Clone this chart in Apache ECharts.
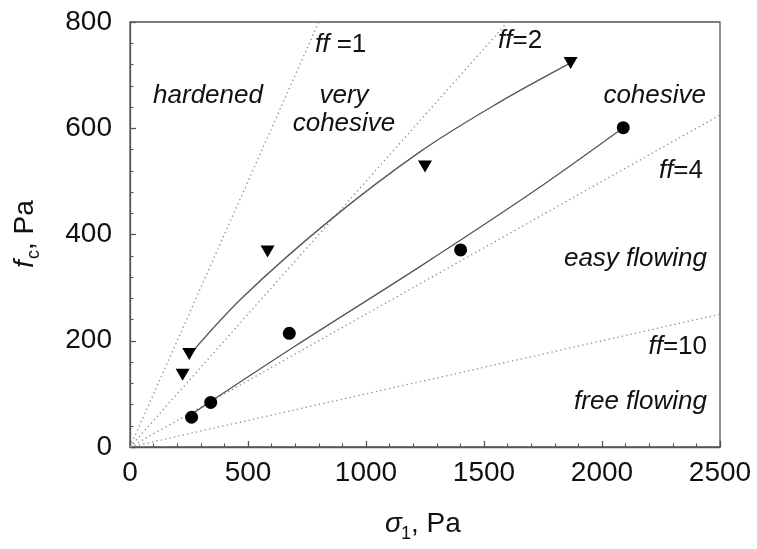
<!DOCTYPE html>
<html>
<head>
<meta charset="utf-8">
<script src="https://cdn.jsdelivr.net/npm/echarts@6/dist/echarts.min.js"></script>
<style>
html,body{margin:0;padding:0;background:#fff;}
#c{width:757px;height:549px;}
</style>
</head>
<body>
<div id="c"></div>
<script>
// ---- data ----
var xTicks = [0, 500, 1000, 1500, 2000, 2500];
var yTicks = [0, 200, 400, 600, 800];
// down-pointing triangles
var triX = [223, 251, 583, 1250, 1867];
var triY = [136, 175, 368, 528, 723];
// circles
var cirX = [261, 342, 675, 1401, 2090];
var cirY = [56, 84, 214, 371, 601];
// fitted curves
var fitTriX = [265, 480, 850, 1230, 1550, 1867];
var fitTriY = [180, 283, 428, 556, 645, 723];
var fitCirX = [255, 700, 1230, 1700, 2090];
var fitCirY = [60, 190, 340, 478, 601];
// flow-function lines ff = sigma1 / fc (end points)
var ffNames = ['ff=1', 'ff=2', 'ff=4', 'ff=10'];
var ffEndX = [800, 1600, 2500, 2500];
var ffEndY = [800, 800, 625, 250];

function zip(a, b) { return a.map(function (v, i) { return [v, b[i]]; }); }

var FONT = '"Liberation Sans", Arial, Helvetica, sans-serif';
var chart = echarts.init(document.getElementById('c'), null, {renderer: 'canvas'});

var series = [];
ffNames.forEach(function (n, i) {
  series.push({
    name: n, type: 'line', data: [[0, 0], [ffEndX[i], ffEndY[i]]],
    showSymbol: false, silent: true, z: 1,
    lineStyle: {color: '#8a8a8a', width: 1.3, type: [1.3, 3.2]}
  });
});
series.push({
  type: 'line', data: zip(fitTriX, fitTriY), smooth: 0.35, showSymbol: false, z: 2,
  lineStyle: {color: '#555', width: 1.3}
});
series.push({
  type: 'line', data: zip(fitCirX, fitCirY), smooth: 0.35, showSymbol: false, z: 2,
  lineStyle: {color: '#555', width: 1.3}
});
series.push({
  type: 'scatter', data: zip(triX, triY), symbol: 'triangle', symbolRotate: 180,
  symbolSize: [14, 12], itemStyle: {color: '#000', opacity: 1}, z: 3
});
series.push({
  type: 'scatter', data: zip(cirX, cirY), symbol: 'circle',
  symbolSize: 13, itemStyle: {color: '#000', opacity: 1}, z: 3
});

function txt(t, x, y, align, rich) {
  var s = {text: t, x: x, y: y, align: align, verticalAlign: 'middle',
           font: '26px ' + FONT, fontFamily: FONT, fontSize: 26, fill: '#111'};
  if (rich) s.rich = rich;
  return {type: 'text', style: s, z: 10};
}
var ffRich = {i: {fontStyle: 'italic', fontFamily: FONT, fontSize: 26, color: '#111'},
              n: {fontFamily: FONT, fontSize: 26, color: '#111'}};
function italic(t, x, y, align) {
  return {type: 'text', z: 10, style: {text: t, x: x, y: y, align: align, verticalAlign: 'middle',
    font: 'italic 26px ' + FONT, fill: '#111'}};
}

var graphics = [
  italic('hardened', 208, 96, 'center'),
  italic('very', 344, 96, 'center'),
  italic('cohesive', 344, 124, 'center'),
  italic('cohesive', 706, 96, 'right'),
  italic('easy flowing', 707, 259, 'right'),
  italic('free flowing', 707, 402, 'right'),
  txt('{i|ff} {n|=1}', 315, 45, 'left', ffRich),
  txt('{i|ff}{n|=2}', 498, 41, 'left', ffRich),
  txt('{i|ff}{n|=4}', 703, 171, 'right', ffRich),
  txt('{i|ff}{n|=10}', 707, 347, 'right', ffRich),
  // x axis title: sigma_1, Pa
  {type: 'text', z: 10, style: {text: 'σ', x: 385, y: 524, align: 'left', verticalAlign: 'middle',
    font: 'italic 28px ' + FONT, fill: '#111'}},
  {type: 'text', z: 10, style: {text: '1', x: 401, y: 534, align: 'left', verticalAlign: 'middle',
    font: '18px ' + FONT, fill: '#111'}},
  {type: 'text', z: 10, style: {text: ', Pa', x: 411, y: 524, align: 'left', verticalAlign: 'middle',
    font: '28px ' + FONT, fill: '#111'}},
  // y axis title: f_c, Pa (rotated, reads bottom-to-top)
  {type: 'group', x: 25, y: 268, rotation: Math.PI / 2, children: [
    {type: 'text', z: 10, style: {text: 'f', x: 0, y: 0, align: 'left', verticalAlign: 'middle',
      font: 'italic 28px ' + FONT, fill: '#111'}},
    {type: 'text', z: 10, style: {text: 'c', x: 9, y: 9, align: 'left', verticalAlign: 'middle',
      font: '18px ' + FONT, fill: '#111'}},
    {type: 'text', z: 10, style: {text: ', Pa', x: 18, y: 0, align: 'left', verticalAlign: 'middle',
      font: '28px ' + FONT, fill: '#111'}}
  ]}
];

chart.setOption({
  animation: false,
  backgroundColor: '#fff',
  grid: {left: 130, right: 37, top: 22, bottom: 102, show: true,
         borderColor: '#555', borderWidth: 1.3, backgroundColor: 'transparent'},
  xAxis: {
    type: 'value', min: xTicks[0], max: xTicks[xTicks.length - 1], interval: 500,
    axisLine: {show: true, onZero: false, lineStyle: {color: '#555', width: 1.3}},
    axisTick: {show: true, inside: true, length: 6, lineStyle: {color: '#555', width: 1.3}},
    minorTick: {show: true, splitNumber: 5, length: 3.5, lineStyle: {color: '#555', width: 1.1}},
    splitLine: {show: false},
    axisLabel: {color: '#111', fontFamily: FONT, fontSize: 28, margin: 12,
                formatter: function (v) { return String(v); }}
  },
  yAxis: {
    type: 'value', min: yTicks[0], max: yTicks[yTicks.length - 1], interval: 200,
    axisLine: {show: true, onZero: false, lineStyle: {color: '#555', width: 1.3}},
    axisTick: {show: true, inside: true, length: 6, lineStyle: {color: '#555', width: 1.3}},
    minorTick: {show: true, splitNumber: 5, length: 3.5, lineStyle: {color: '#555', width: 1.1}},
    splitLine: {show: false},
    axisLabel: {color: '#111', fontFamily: FONT, fontSize: 28, margin: 18,
                formatter: function (v) { return String(v); }}
  },
  series: series,
  graphic: graphics
});
</script>
</body>
</html>
